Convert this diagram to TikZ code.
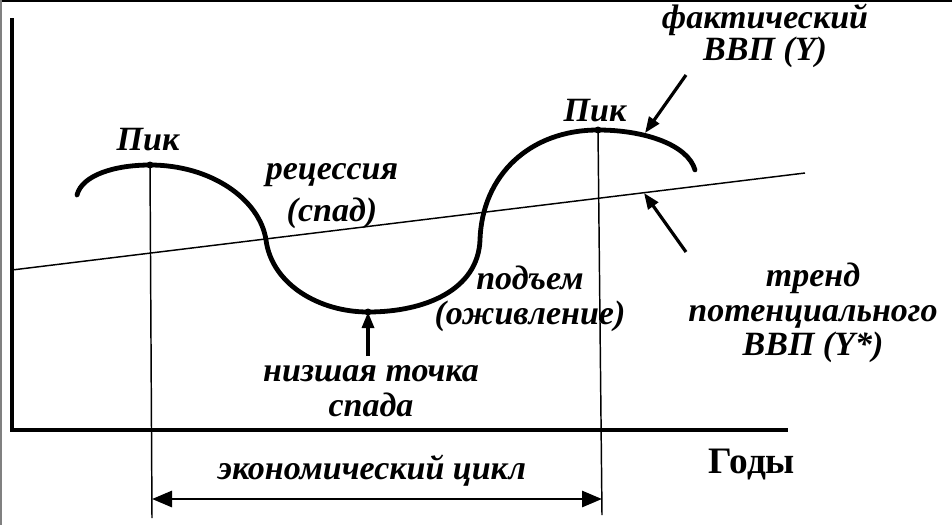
\documentclass[tikz,border=0pt]{standalone}
\usepackage{fontspec}
\setmainfont{Liberation Serif}
\usepackage{tikz}
\usetikzlibrary{arrows.meta}

\tikzset{
	lbl/.style={font=\fontsize{25.5}{26}\selectfont\bfseries\itshape, inner sep=0.75pt, align=center},
	axisline/.style={line width=3pt},
	gdpline/.style={line width=3.6pt, line cap=round},
	thinline/.style={line width=1.1pt},
	pointer/.style={line width=2.4pt, -{Triangle[length=12pt,width=9pt]}},
}

\begin{document}
\begin{tikzpicture}[x=0.75pt,y=0.75pt,yscale=-1,xscale=1]
	\useasboundingbox (0,0) rectangle (952,525);
	%frame
	\draw [line width=1.5pt] (0,1) -- (952,1) ;
	\draw [color=gray, line width=1pt] (1,0) -- (1,525) ;
	
	%Axes
	\coordinate (origin) at (12,430);
	\coordinate (ytop) at (12,18);
	\coordinate (xend) at (788,430);
	\draw [axisline] (ytop) -- (origin) -- (xend) ;
	
	%Trend line
	\coordinate (trendL) at (12,270);
	\coordinate (trendR) at (805,173);
	\draw [thinline] (trendL) -- (trendR) ;
	
	%Actual GDP curve
	\coordinate (start) at (77,195);
	\coordinate (peakA) at (150,165);
	\coordinate (fallX) at (266,240);
	\coordinate (trough) at (368,312);
	\coordinate (riseX) at (480,240);
	\coordinate (peakB) at (598,130);
	\coordinate (finish) at (695,170);
	\draw [gdpline] (start) .. controls (82,175) and (115,165) .. (peakA)
		.. controls (212,165) and (260,200) .. (fallX)
		.. controls (272,285) and (320,312) .. (trough)
		.. controls (425,312) and (478,290) .. (riseX)
		.. controls (482,175) and (530,130) .. (peakB)
		.. controls (645,130) and (688,145) .. (finish) ;
	
	%Peak and trough markers
	\fill (peakA) circle (3.5) ;
	\fill (peakB) circle (3.5) ;
	\fill (trough) circle (3.5) ;
	
	%Verticals through the peaks
	\coordinate (peakAfoot) at (152,518);
	\coordinate (peakBfoot) at (602,515);
	\draw [thinline] (peakA) -- (peakAfoot) ;
	\draw [thinline] (peakB) -- (peakBfoot) ;
	
	%Cycle arrow
	\coordinate (cycleL) at (152,499);
	\coordinate (cycleR) at (602,499);
	\draw [line width=2.2pt, {Triangle[length=15pt,width=12pt]}-{Triangle[length=15pt,width=12pt]}] (cycleL) -- (cycleR) ;
	
	% Text Node
	\node [lbl] (peakAlbl) at (148,140) {Пик};
	% Text Node
	\node [lbl] (peakBlbl) at (595,111) {Пик};
	% Text Node
	\node [lbl, font=\fontsize{25.5}{31}\selectfont\bfseries\itshape] (recession) at (332,196) {рецессия\\(спад)};
	% Text Node
	\node [lbl] (recovery) at (530,299) {подъем\\(оживление)};
	% Text Node
	\node [lbl] (troughlbl) at (371,391) {низшая точка\\спада};
	% Text Node
	\node [lbl, font=\fontsize{25.5}{23.5}\selectfont\bfseries\itshape] (actual) at (765,36) {фактический\\ВВП (\textit{Y})};
	% Text Node
	\node [lbl] (trend) at (813,313) {тренд\\потенциального\\ВВП (\textit{Y*})};
	% Text Node
	\node [lbl] (cycle) at (372,471) {экономический цикл};
	% Text Node
	\node [font=\fontsize{28}{30}\selectfont\bfseries, inner sep=0.75pt] (years) at (752,465) {Годы};
	
	%Pointers
	\coordinate (actualTail) at (686,75);
	\coordinate (actualTip) at (645,133);
	\coordinate (trendTail) at (686,252);
	\coordinate (trendTip) at (644,193);
	\coordinate (troughTail) at (368,356);
	\draw [pointer] (actualTail) -- (actualTip) ;
	\draw [pointer] (trendTail) -- (trendTip) ;
	\draw [pointer] (troughTail) -- (trough) ;
	
\end{tikzpicture}
\end{document}
